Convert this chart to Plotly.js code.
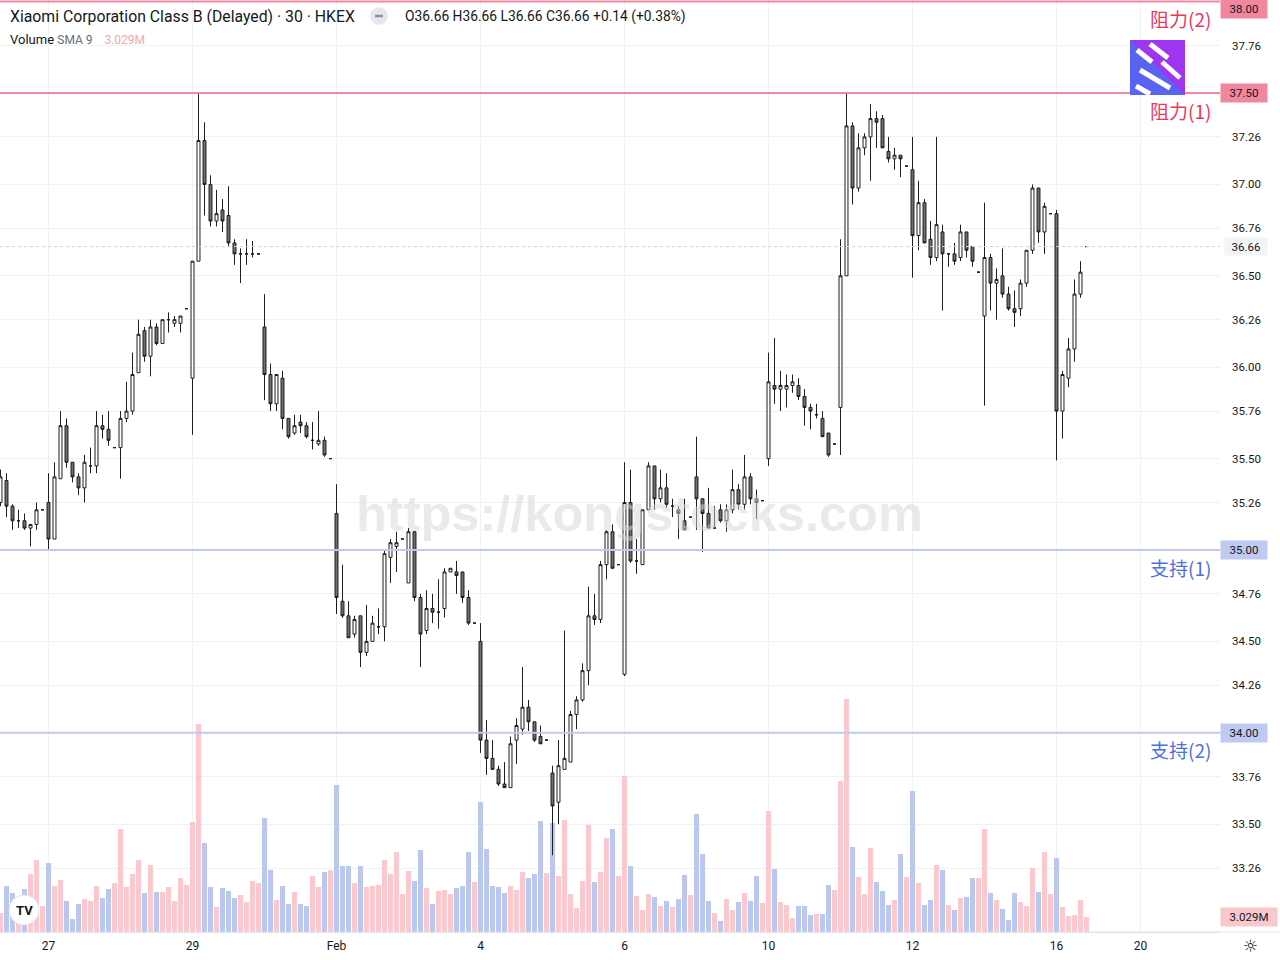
<!DOCTYPE html>
<html>
<head>
<meta charset="utf-8">
<script src="https://cdn.plot.ly/plotly-3.0.1.min.js"></script>
<style>
html,body{margin:0;padding:0;background:#ffffff;}
#chart{width:1280px;height:960px;}
</style>
</head>
<body>
<div id="chart"></div>
<script>
// ---------- DATA (30-minute bars, Xiaomi 1810.HK) ----------
const openP = [
35.26,35.38,35.24,35.16,35.16,35.12,35.14,35.22,35.26,35.06,
35.39,35.68,35.48,35.40,35.34,35.46,35.46,35.68,35.66,35.56,
35.56,35.72,35.76,35.97,36.20,36.06,36.22,36.13,36.26,36.24,
36.24,36.32,35.94,36.58,37.24,37.00,36.80,36.86,36.83,36.68,
36.62,36.62,36.62,36.62,36.22,35.96,35.80,35.94,35.72,35.64,
35.70,35.68,35.60,35.58,35.60,35.50,35.20,34.72,34.64,34.54,
34.64,34.44,34.50,34.58,34.58,34.96,35.02,35.06,34.82,35.10,
34.74,34.56,34.68,34.66,34.68,34.88,34.88,34.88,34.74,34.60,
34.50,33.96,33.86,33.80,33.72,33.70,33.96,34.02,34.14,34.06,
33.98,33.96,33.78,33.62,33.80,33.84,34.10,34.18,34.34,34.64,
34.62,34.92,35.10,34.92,34.32,35.26,34.94,34.92,35.22,35.46,
35.28,35.34,35.24,35.22,35.16,35.18,35.40,35.28,35.20,35.12,
35.22,35.16,35.22,35.33,35.25,35.40,35.28,35.27,35.50,35.90,
35.88,35.88,35.90,35.90,35.84,35.78,35.74,35.72,35.64,35.58,
35.78,36.50,37.32,36.98,37.20,37.26,37.36,37.36,37.18,37.14,
37.16,37.10,37.08,36.72,36.90,36.70,36.60,36.74,36.62,36.62,
36.60,36.74,36.66,36.52,36.28,36.60,36.46,36.50,36.40,36.32,
36.32,36.46,36.64,36.98,36.74,36.84,36.84,35.76,35.94,36.10,
36.40,36.66];
const highP = [
35.44,35.42,35.25,35.22,35.20,35.14,35.26,35.22,35.42,35.48,
35.76,35.72,35.48,35.42,35.52,35.56,35.76,35.74,35.76,35.56,
35.76,35.92,36.08,36.26,36.22,36.26,36.24,36.26,36.30,36.28,
36.28,36.32,36.58,37.50,37.34,37.05,36.97,36.92,36.99,36.70,
36.65,36.70,36.69,36.62,36.40,36.02,35.96,35.98,35.72,35.74,
35.74,35.70,35.70,35.76,35.62,35.50,35.36,34.92,34.72,34.64,
34.64,34.70,34.64,34.68,35.00,35.06,35.10,35.06,35.12,35.10,
34.76,34.78,34.76,34.84,34.90,34.90,34.94,34.88,34.78,34.60,
34.60,34.07,33.96,33.82,33.84,33.98,34.08,34.36,34.18,34.06,
34.04,33.96,33.82,33.96,34.56,34.12,34.20,34.38,34.80,34.76,
34.94,35.11,35.14,34.92,35.48,35.44,35.06,35.22,35.48,35.46,
35.44,35.42,35.28,35.24,35.28,35.18,35.62,35.28,35.34,35.24,
35.25,35.25,35.44,35.36,35.52,35.42,35.33,35.27,36.08,36.16,
35.98,35.96,35.96,35.94,35.88,35.80,35.80,35.76,35.64,35.58,
36.70,37.50,37.34,37.28,37.28,37.44,37.40,37.38,37.26,37.20,
37.16,37.10,37.26,37.02,36.92,36.80,37.26,36.78,36.62,36.68,
36.78,36.74,36.66,36.52,36.90,36.62,36.54,36.65,36.44,36.42,
36.48,36.64,37.00,36.98,36.90,36.84,36.86,35.98,36.16,36.48,
36.58,36.66];
const lowP = [
35.24,35.18,35.11,35.12,35.11,35.02,35.11,35.22,35.00,35.06,
35.39,35.45,35.37,35.30,35.26,35.42,35.42,35.61,35.57,35.56,
35.39,35.70,35.74,35.97,36.03,35.95,36.12,36.13,36.19,36.22,
36.19,36.32,35.63,36.58,36.83,36.77,36.77,36.74,36.66,36.56,
36.46,36.56,36.60,36.62,35.82,35.76,35.76,35.66,35.61,35.63,
35.64,35.61,35.55,35.57,35.51,35.50,34.65,34.63,34.52,34.52,
34.36,34.42,34.50,34.54,34.50,34.82,34.88,35.06,34.82,34.72,
34.36,34.54,34.60,34.57,34.63,34.88,34.76,34.71,34.59,34.60,
33.89,33.77,33.80,33.71,33.70,33.70,33.83,33.99,34.01,33.95,
33.94,33.96,33.33,33.50,33.80,33.84,34.02,34.17,34.26,34.59,
34.60,34.84,34.90,34.92,34.31,34.93,34.87,34.92,35.22,35.22,
35.26,35.23,35.18,35.06,35.11,35.18,35.11,34.99,35.12,35.12,
35.15,35.10,35.20,35.22,35.22,35.25,35.17,35.27,35.46,35.80,
35.76,35.78,35.86,35.82,35.68,35.66,35.72,35.62,35.51,35.58,
35.52,36.50,36.89,36.96,37.16,37.02,37.20,37.20,37.12,37.08,
37.04,37.10,36.49,36.64,36.68,36.56,36.58,36.31,36.55,36.56,
36.58,36.60,36.55,36.52,35.79,36.31,36.26,36.38,36.31,36.22,
36.28,36.44,36.62,36.68,36.62,36.84,35.49,35.61,35.89,36.03,
36.38,36.66];
const closeP = [
35.40,35.24,35.16,35.16,35.12,35.14,35.22,35.22,35.06,35.40,
35.68,35.48,35.40,35.34,35.48,35.46,35.68,35.66,35.60,35.56,
35.72,35.76,35.96,36.18,36.06,36.22,36.13,36.26,36.26,36.26,
36.28,36.32,36.58,37.24,37.00,36.80,36.84,36.80,36.68,36.62,
36.62,36.62,36.62,36.62,35.96,35.80,35.96,35.72,35.62,35.68,
35.68,35.62,35.60,35.60,35.52,35.50,34.74,34.64,34.52,34.62,
34.44,34.50,34.60,34.58,34.98,35.04,35.04,35.06,35.10,34.74,
34.54,34.68,34.66,34.66,34.88,34.90,34.86,34.74,34.60,34.60,
33.96,33.86,33.80,33.72,33.70,33.94,34.04,34.14,34.06,33.96,
33.94,33.96,33.60,33.82,33.86,34.10,34.18,34.34,34.64,34.62,
34.92,35.10,34.90,34.92,35.26,34.94,34.94,35.22,35.46,35.28,
35.34,35.25,35.24,35.20,35.11,35.18,35.28,35.20,35.12,35.12,
35.16,35.22,35.33,35.25,35.40,35.28,35.26,35.27,35.92,35.88,
35.90,35.90,35.92,35.84,35.78,35.76,35.74,35.62,35.52,35.58,
36.50,37.32,36.98,37.20,37.26,37.36,37.34,37.20,37.14,37.16,
37.14,37.10,36.72,36.90,36.68,36.60,36.78,36.62,36.62,36.58,
36.74,36.64,36.58,36.52,36.60,36.46,36.48,36.40,36.32,36.30,
36.46,36.64,36.98,36.74,36.88,36.84,35.76,35.96,36.10,36.40,
36.52,36.66];
// volume in millions of shares
const volumeM = [
3.84,9.29,7.88,5.05,8.69,11.71,14.54,5.25,13.93,9.29,
10.50,6.26,2.63,5.65,6.66,6.26,9.29,6.87,8.69,9.89,
20.80,9.09,11.71,14.54,7.88,13.53,8.08,8.08,9.09,6.26,
10.90,9.49,22.21,42.00,17.97,9.09,5.05,8.88,8.28,6.87,
7.47,6.06,10.30,9.89,23.02,12.52,6.46,9.29,5.65,8.08,
5.65,5.25,11.31,9.09,12.12,12.52,29.68,13.33,13.33,9.89,
13.33,9.09,9.29,9.49,14.54,11.71,16.15,7.67,12.32,10.30,
16.56,8.88,5.65,8.28,8.48,7.67,8.88,9.29,16.15,10.10,
26.25,16.76,9.29,9.09,7.88,9.29,8.48,12.12,10.90,11.71,
22.41,11.91,22.01,11.31,22.62,7.67,4.85,10.30,21.61,10.10,
12.12,18.98,20.80,11.31,31.50,13.33,7.27,4.44,7.67,7.07,
5.25,6.26,5.05,6.66,11.51,7.47,23.83,15.75,6.26,3.84,
2.22,6.66,4.44,6.06,7.88,6.26,11.31,5.86,24.43,12.72,
6.06,5.45,2.83,5.25,5.25,3.43,3.63,3.63,9.49,8.48,
30.49,47.05,17.16,11.11,7.67,16.96,10.10,8.28,5.45,6.46,
15.75,11.11,28.47,9.89,5.45,6.46,13.53,12.52,5.45,4.44,
6.87,7.07,10.90,10.90,20.80,7.88,6.46,4.64,2.42,7.88,
6.06,5.25,12.92,8.08,16.15,7.67,14.94,5.05,3.23,3.43,
6.46,3.03];
// bar index of the first bar of each labelled trading day
const dayTickIdx = [8, 32, 56, 80, 104, 128, 152, 176, 190];
const dayTickText = ['27', '29', 'Feb', '4', '6', '10', '12', '16', '20'];
const priceTicks = [37.76,37.26,37.00,36.76,36.50,36.26,36.00,35.76,35.50,35.26,34.76,34.50,34.26,33.76,33.50,33.26];
const levelValues = [38.00, 37.50, 35.00, 34.00];
const levelNames = ['阻力(2)', '阻力(1)', '支持(1)', '支持(2)'];
const levelKinds = ['res', 'res', 'sup', 'sup'];
const lastPrice = 36.66;
const lastVolumeText = '3.029M';
const headerTitle = 'Xiaomi Corporation Class B (Delayed) · 30 · HKEX';
const headerOHLC = 'O36.66 H36.66 L36.66 C36.66 +0.14 (+0.38%)';

// ---------- BUILD ----------
const idx = closeP.map((_, i) => i);
const UP_VOL = '#fbc9cd', DN_VOL = '#bac7f1';
const volColors = closeP.map((c, i) => (c >= openP[i] ? UP_VOL : DN_VOL));

const PW = 1220, PH = 932;
const px = x => x / PW;
const py = y => 1 - y / PH;
const yMin = 32.9103, yMax = 38.0088;
const priceToPix = p => (yMax - p) / (yMax - yMin) * PH;

const FONT = 'Roboto, "Noto Sans", "Liberation Sans", sans-serif';
const CJK = '"Noto Sans CJK SC", "Noto Sans", sans-serif';
const TXT = '#131722';

const traces = [
  {
    type: 'bar', x: idx, y: volumeM, width: 0.8,
    marker: {color: volColors, line: {width: 0}},
    xaxis: 'x', yaxis: 'y', hoverinfo: 'skip', showlegend: false
  },
  {
    type: 'candlestick', x: idx, open: openP, high: highP, low: lowP, close: closeP,
    xaxis: 'x', yaxis: 'y2', whiskerwidth: 0,
    increasing: {line: {color: '#1e1e1e', width: 1}, fillcolor: '#ffffff'},
    decreasing: {line: {color: '#1e1e1e', width: 1}, fillcolor: '#6f6f6f'},
    hoverinfo: 'skip', showlegend: false
  }
];

const shapes = [];
const annotations = [];

// level lines + names + price boxes
levelValues.forEach((v, i) => {
  const res = levelKinds[i] === 'res';
  const lineCol = res ? '#ef88a0' : '#bfc9f1';
  const boxCol = res ? '#f0879f' : '#bfc9f2';
  const nameCol = res ? '#ee3760' : '#4e6fe0';
  shapes.push({type: 'line', xref: 'paper', yref: 'y2', x0: 0, x1: 1, y0: v, y1: v,
    line: {color: lineCol, width: 2}, layer: 'above'});
  const yPix = Math.max(priceToPix(v), 9);
  annotations.push({xref: 'paper', yref: 'paper', x: px(1244), y: py(yPix), text: v.toFixed(2),
    showarrow: false, bgcolor: boxCol, width: 44, height: 16, xanchor: 'center', yanchor: 'middle',
    font: {family: FONT, size: 11.5, color: TXT}});
  annotations.push({xref: 'paper', yref: 'paper', x: px(1213), y: py(priceToPix(v) + 17),
    text: levelNames[i], showarrow: false, xanchor: 'right', yanchor: 'middle',
    font: {family: CJK, size: 19, color: nameCol}});
});

// last price dotted line and label
shapes.push({type: 'line', xref: 'paper', yref: 'y2', x0: 0, x1: 1, y0: lastPrice, y1: lastPrice,
  line: {color: '#cfd2d9', width: 1, dash: 'dot'}});
annotations.push({xref: 'paper', yref: 'y2', x: px(1246), y: lastPrice, text: lastPrice.toFixed(2),
  showarrow: false, bgcolor: '#f3f4f6', width: 40, height: 15, xanchor: 'center', yanchor: 'middle',
  font: {family: FONT, size: 11.5, color: TXT}});

// volume label
annotations.push({xref: 'paper', yref: 'paper', x: px(1249), y: py(917), text: lastVolumeText,
  showarrow: false, bgcolor: '#f9c8cc', width: 54, height: 16, xanchor: 'center', yanchor: 'middle',
  font: {family: FONT, size: 11.5, color: TXT}});

// bottom line across the price scale too
shapes.push({type: 'line', xref: 'paper', yref: 'paper', x0: 0, x1: px(1280), y0: 0, y1: 0,
  line: {color: '#e0e3eb', width: 1}});

// header
annotations.push({xref: 'paper', yref: 'paper', x: px(8), y: py(16), text: headerTitle,
  showarrow: false, xanchor: 'left', yanchor: 'middle', font: {family: FONT, size: 15.8, color: TXT}});
shapes.push({type: 'circle', xref: 'paper', yref: 'paper', xsizemode: 'pixel', ysizemode: 'pixel',
  xanchor: px(379), yanchor: py(16), x0: -9, x1: 9, y0: -9, y1: 9, fillcolor: '#e6e8ed', line: {width: 0}});
shapes.push({type: 'line', xref: 'paper', yref: 'paper', xsizemode: 'pixel', ysizemode: 'pixel',
  xanchor: px(379), yanchor: py(16), x0: -4, x1: 4, y0: 0, y1: 0, line: {color: '#8a8e99', width: 2.5}});
annotations.push({xref: 'paper', yref: 'paper', x: px(403), y: py(16), text: headerOHLC,
  showarrow: false, xanchor: 'left', yanchor: 'middle', font: {family: FONT, size: 13.8, color: TXT}});
annotations.push({xref: 'paper', yref: 'paper', x: px(8), y: py(40),
  text: 'Volume <span style="font-size:12px;color:#6a6d78">SMA 9</span><span style="font-size:12px;color:#f7a6ae">&nbsp;&nbsp;&nbsp;&nbsp;' + lastVolumeText + '</span>',
  showarrow: false, xanchor: 'left', yanchor: 'middle', font: {family: FONT, size: 13, color: TXT}});

// watermark
annotations.push({xref: 'paper', yref: 'paper', x: px(639), y: py(513), text: '<b>https://kongstocks.com</b>',
  showarrow: false, xanchor: 'center', yanchor: 'middle',
  font: {family: '"Liberation Sans", Arial, sans-serif', size: 50.5, color: 'rgba(214,214,214,0.5)'}});

// site logo (top right)
shapes.push({type: 'rect', xref: 'paper', yref: 'paper', x0: px(1130), x1: px(1185), y0: py(95), y1: py(40),
  fillcolor: '#a035f0', line: {width: 0}});
shapes.push({type: 'path', xref: 'paper', yref: 'paper',
  path: `M ${px(1130)},${py(40)} L ${px(1130)},${py(95)} L ${px(1185)},${py(95)} Z`,
  fillcolor: '#5a62f2', line: {width: 0}});
[[1137, 50, 1152, 62], [1150, 44, 1168, 58], [1140, 70, 1170, 88], [1162, 62, 1180, 78], [1136, 86, 1150, 94]].forEach(s => {
  shapes.push({type: 'line', xref: 'paper', yref: 'paper', x0: px(s[0]), y0: py(s[1]), x1: px(s[2]), y1: py(s[3]),
    line: {color: '#ffffff', width: 5}});
});

// TradingView badge
shapes.push({type: 'circle', xref: 'paper', yref: 'paper', xsizemode: 'pixel', ysizemode: 'pixel',
  xanchor: px(24), yanchor: py(910), x0: -15, x1: 15, y0: -15, y1: 15, fillcolor: '#ffffff',
  line: {color: '#e3e5ea', width: 1}});
annotations.push({xref: 'paper', yref: 'paper', x: px(24), y: py(910), text: '<b>TV</b>', showarrow: false,
  xanchor: 'center', yanchor: 'middle', font: {family: FONT, size: 13, color: '#131722'}});

// settings icon
annotations.push({xref: 'paper', yref: 'paper', x: px(1251), y: py(946), text: '☼', showarrow: false,
  xanchor: 'center', yanchor: 'middle', font: {family: '"DejaVu Sans", sans-serif', size: 17, color: TXT}});

const layout = {
  width: 1280, height: 960,
  margin: {l: 0, r: 60, t: 0, b: 28, pad: 0},
  paper_bgcolor: '#ffffff', plot_bgcolor: '#ffffff',
  showlegend: false, boxgap: 0.3, bargap: 0,
  font: {family: FONT, color: TXT},
  xaxis: {
    range: [-0.0833, 203.25], tickmode: 'array', tickvals: dayTickIdx, ticktext: dayTickText,
    showgrid: true, gridcolor: '#f0f1f3', gridwidth: 1, zeroline: false,
    showline: true, linecolor: '#e0e3eb', ticks: '', ticklabelstandoff: 3,
    tickfont: {family: FONT, size: 12, color: TXT}, rangeslider: {visible: false}, fixedrange: true
  },
  yaxis: {range: [0, 188.2], visible: false, fixedrange: true},
  yaxis2: {
    overlaying: 'y', side: 'right', anchor: 'x', range: [yMin, yMax],
    tickmode: 'array', tickvals: priceTicks, ticktext: priceTicks.map(v => v.toFixed(2)),
    showgrid: true, gridcolor: '#f0f1f3', zeroline: false, showline: false, ticks: '',
    ticklabelstandoff: 11, tickfont: {family: FONT, size: 11.5, color: TXT}, fixedrange: true
  },
  shapes: shapes,
  annotations: annotations
};

Plotly.newPlot('chart', traces, layout, {staticPlot: true, displayModeBar: false});
</script>
</body>
</html>
